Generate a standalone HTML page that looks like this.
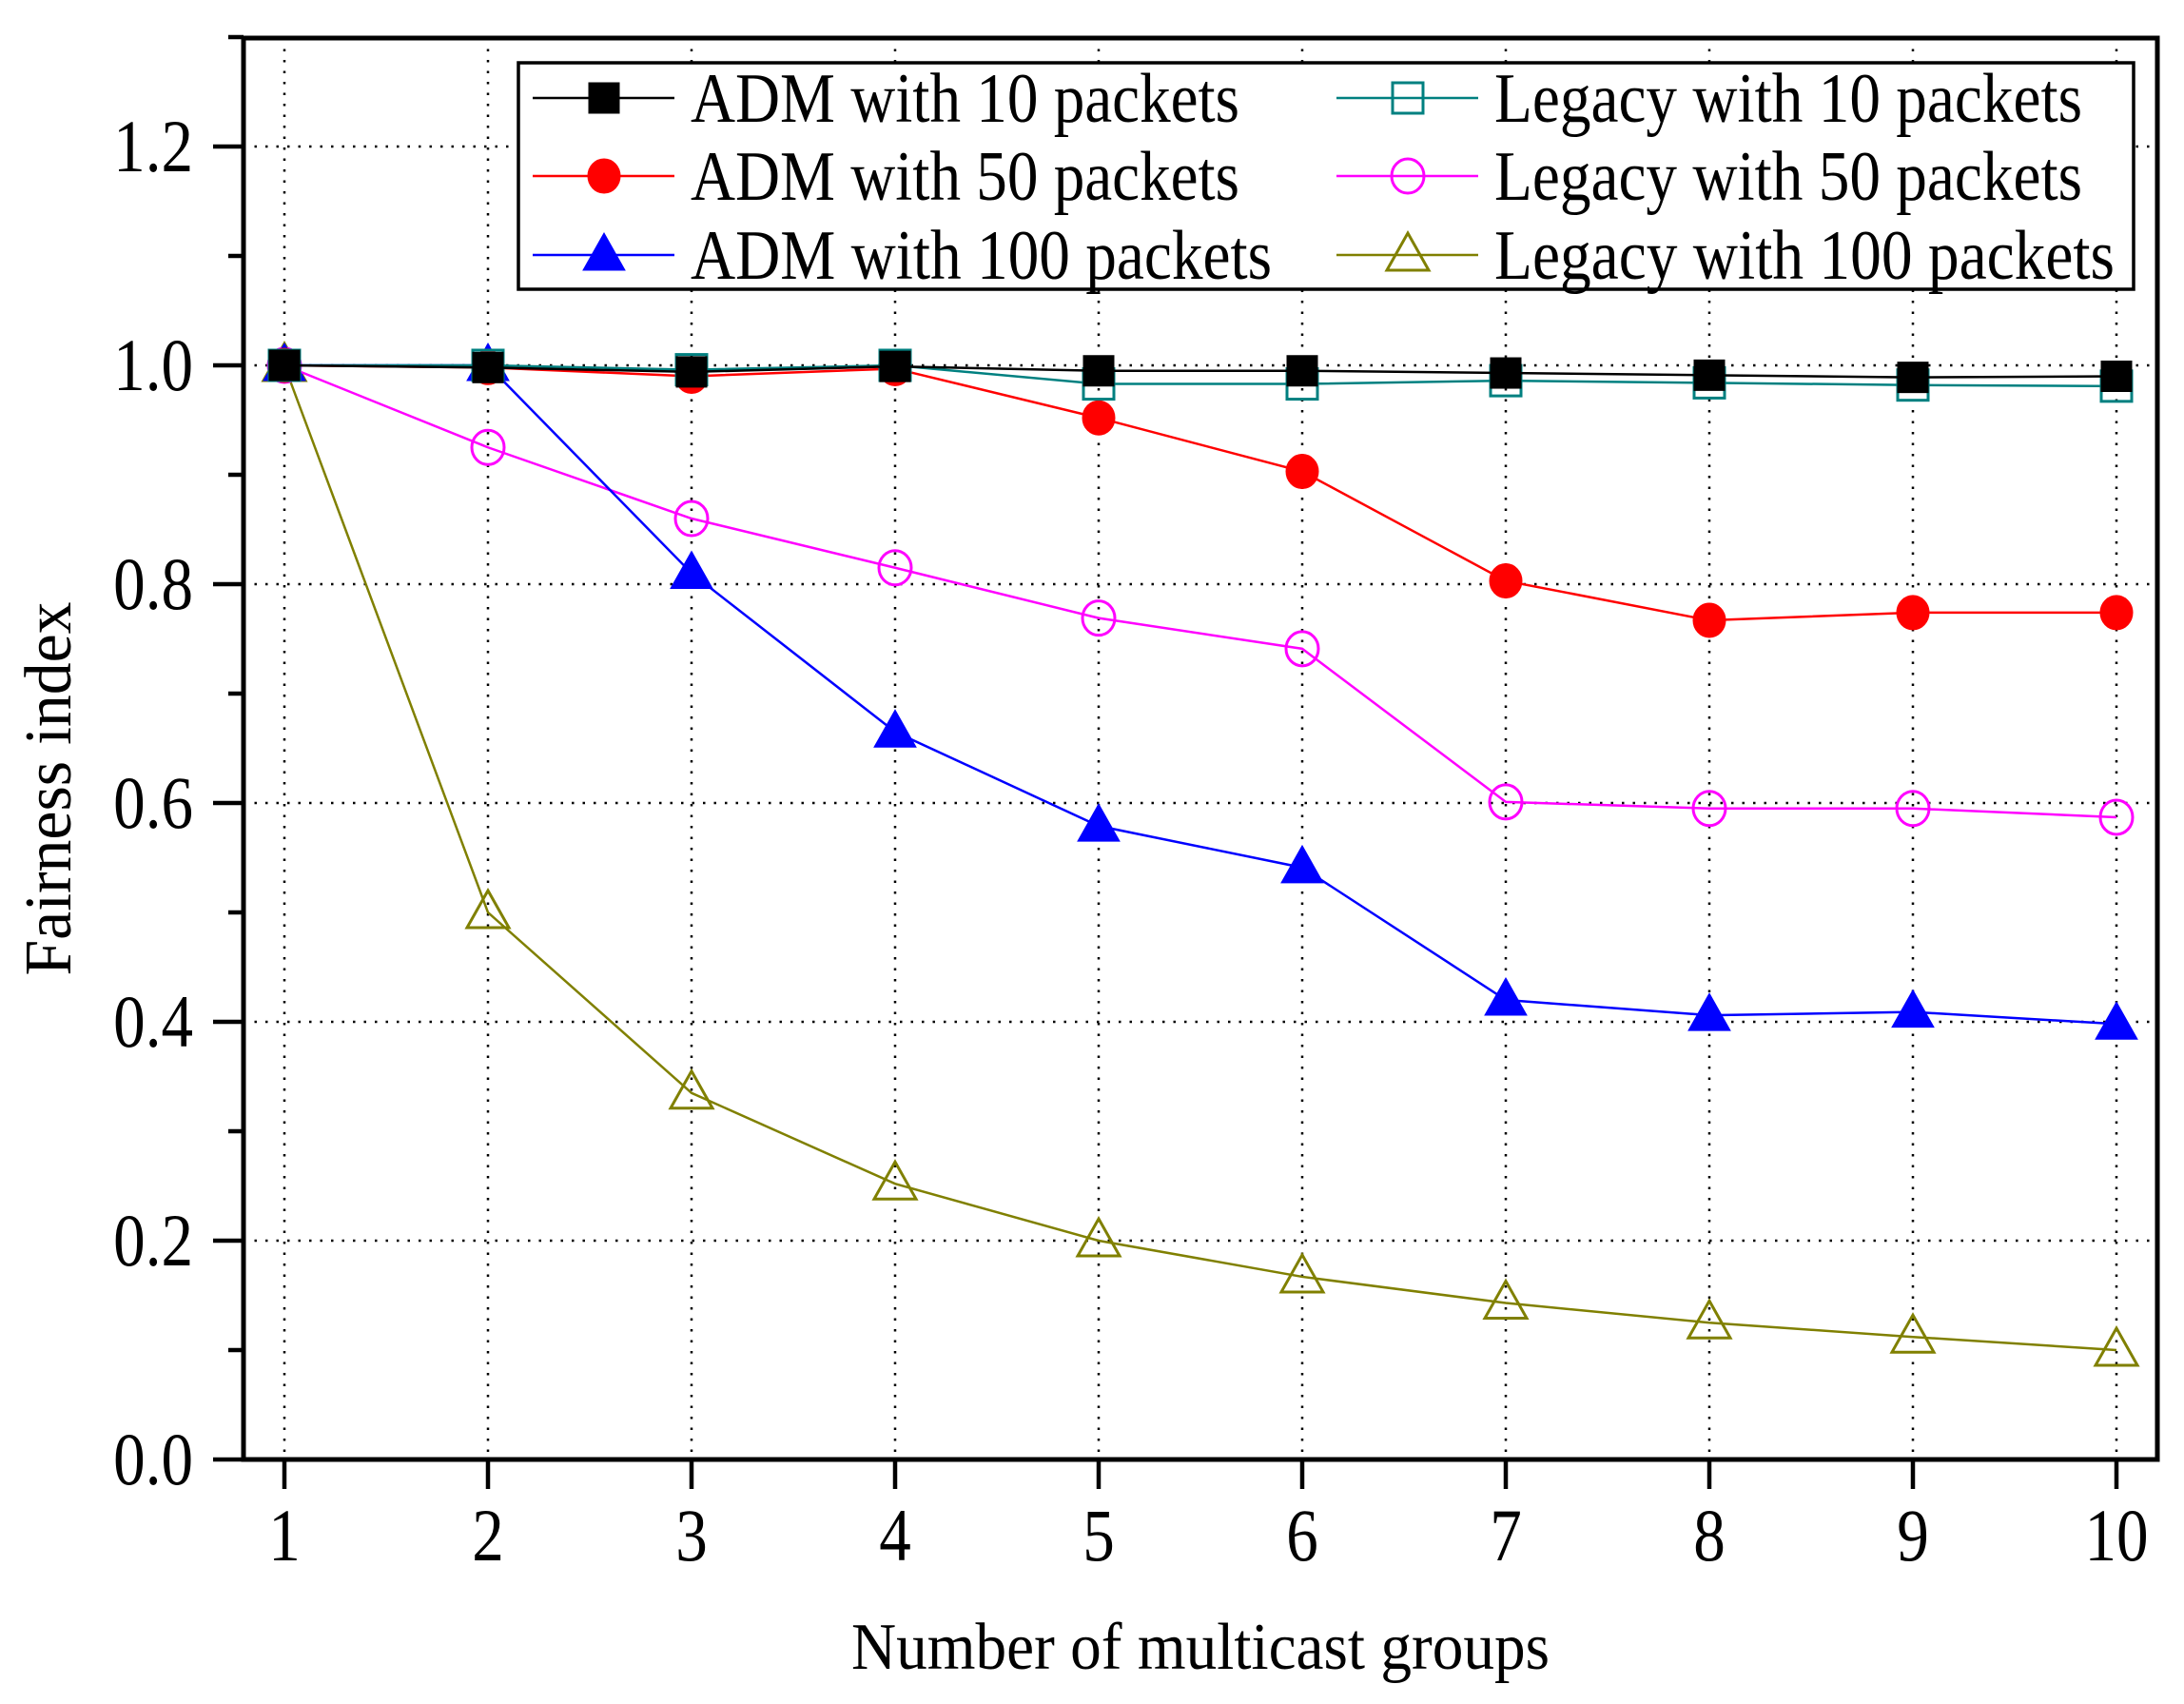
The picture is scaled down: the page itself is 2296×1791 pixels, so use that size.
<!DOCTYPE html>
<html><head><meta charset="utf-8"><style>
html,body{margin:0;padding:0;background:#fff;}
svg{display:block;}
text{font-family:"Liberation Serif",serif;fill:#000;}
</style></head><body>
<svg id="chart" width="2296" height="1791" viewBox="0 0 2296 1791" xmlns="http://www.w3.org/2000/svg">
<g id="grid"></g>
<g id="series"></g>
<g id="axes"></g>
<g id="legend"></g>
<text x="1262" y="1754" font-size="70" text-anchor="middle" textLength="734" lengthAdjust="spacingAndGlyphs">Number of multicast groups</text>
<text transform="translate(74,829) rotate(-90)" font-size="70" text-anchor="middle" textLength="393" lengthAdjust="spacingAndGlyphs">Fairness index</text>
</svg>
<script>
const categories = [1,2,3,4,5,6,7,8,9,10];
const yTicks = [0.0,0.2,0.4,0.6,0.8,1.0,1.2];
const yTickLabels = ["0.0","0.2","0.4","0.6","0.8","1.0","1.2"];
const adm10 = [1.0,0.998,0.994,0.999,0.995,0.995,0.993,0.991,0.989,0.990];
const legacy10 = [1.0,1.0,0.996,1.0,0.983,0.983,0.986,0.984,0.982,0.981];
const adm50 = [1.0,0.998,0.990,0.997,0.952,0.903,0.803,0.767,0.774,0.774];
const legacy50 = [1.0,0.925,0.860,0.815,0.769,0.741,0.601,0.595,0.595,0.587];
const adm100 = [1.0,1.0,0.810,0.665,0.579,0.541,0.420,0.406,0.409,0.398];
const legacy100 = [1.0,0.500,0.335,0.252,0.200,0.167,0.143,0.125,0.112,0.100];

const NS="http://www.w3.org/2000/svg";
const L=256,R=2268,T=40,B=1534;
const X=v=>299+(v-1)*214;
const Y=v=>B-(v/1.0)*1150;
function mk(tag,attrs,parent){const e=document.createElementNS(NS,tag);for(const k in attrs)e.setAttribute(k,attrs[k]);parent.appendChild(e);return e;}
const grid=document.getElementById('grid'),axes=document.getElementById('axes'),ser=document.getElementById('series'),leg=document.getElementById('legend');

yTicks.forEach(v=>{if(v>0){const g=mk('line',{x1:L,x2:R,y1:Y(v),y2:Y(v),stroke:'#000','stroke-width':2.5,'stroke-dasharray':'2.5 9'},grid);

}});
categories.forEach(c=>{const g=mk('line',{x1:X(c),x2:X(c),y1:T,y2:B,stroke:'#000','stroke-width':2.5,'stroke-dasharray':'2.5 9'},grid);

});

const fr=mk('rect',{x:L,y:T,width:R-L,height:B-T,fill:'none',stroke:'#000','stroke-width':5},axes);


for(let i=0;i<=13;i++){const v=i*0.1;const major=i%2===0;
const t=mk('line',{x1:major?224:240,x2:L,y1:Y(v),y2:Y(v),stroke:'#000','stroke-width':4.5},axes);

}
yTicks.forEach((v,i)=>{const t=mk('text',{transform:`translate(203,${Y(v)+26}) scale(0.86,1)`,'font-size':78,'text-anchor':'end'},axes);t.textContent=yTickLabels[i];

});
categories.forEach(c=>{const t=mk('line',{x1:X(c),x2:X(c),y1:B,y2:B+31,stroke:'#000','stroke-width':4.5},axes);


const l=mk('text',{transform:`translate(${X(c)},1640) scale(0.86,1)`,'font-size':78,'text-anchor':'middle'},axes);l.textContent=String(c);

});

function marker(type,color,cx,cy,parent,name){let e;
if(type==='sq'||type==='osq'){e=mk('rect',{x:cx-16,y:cy-16,width:32,height:32,fill:type==='sq'?color:'none',stroke:color,'stroke-width':type==='sq'?1:3},parent);}
else if(type==='ci'||type==='oci'){e=mk('ellipse',{cx:cx,cy:cy,rx:17,ry:18,fill:type==='ci'?color:'none',stroke:color,'stroke-width':type==='ci'?1:3},parent);}
else {e=mk('polygon',{points:`${cx},${cy-23} ${cx+22},${cy+16} ${cx-22},${cy+16}`,fill:type==='tri'?color:'none',stroke:color,'stroke-width':type==='tri'?1:3},parent);}

}

const seriesList=[
 {d:adm10,c:'#000000',m:'sq',n:'adm-10',label:'ADM with 10 packets',col:0,row:0,tl:577},
 {d:legacy10,c:'#008080',m:'osq',n:'legacy-10',label:'Legacy with 10 packets',col:1,row:0,tl:618},
 {d:adm50,c:'#ff0000',m:'ci',n:'adm-50',label:'ADM with 50 packets',col:0,row:1,tl:577},
 {d:legacy50,c:'#ff00ff',m:'oci',n:'legacy-50',label:'Legacy with 50 packets',col:1,row:1,tl:618},
 {d:adm100,c:'#0000ff',m:'tri',n:'adm-100',label:'ADM with 100 packets',col:0,row:2,tl:611},
 {d:legacy100,c:'#808000',m:'otri',n:'legacy-100',label:'Legacy with 100 packets',col:1,row:2,tl:652}];
const order=[5,3,4,2,1,0];
order.forEach(i=>{const s=seriesList[i];
const g=mk('g',{},ser);


const p=mk('polyline',{points:s.d.map((v,j)=>X(categories[j])+','+Y(v)).join(' '),fill:'none',stroke:s.c,'stroke-width':2.5},g);


s.d.forEach((v,j)=>marker(s.m,s.c,X(categories[j]),Y(v),g,s.n+'-point'));});

const lb=mk('rect',{x:545,y:66,width:1698,height:238,fill:'#fff',stroke:'#000','stroke-width':3.5},leg);


const rows=[103,185,268];
seriesList.forEach(s=>{const x0=s.col?1405:560;const y=rows[s.row];
const g=mk('g',{},leg);


const ln=mk('line',{x1:x0,x2:x0+149,y1:y,y2:y,stroke:s.c,'stroke-width':2.5},g);


marker(s.m,s.c,x0+75,y,g,'legend-marker');
const t=mk('text',{x:x0+166,y:y+25,'font-size':74,textLength:s.tl,lengthAdjust:'spacingAndGlyphs'},g);t.textContent=s.label;

});
</script>
</body></html>
